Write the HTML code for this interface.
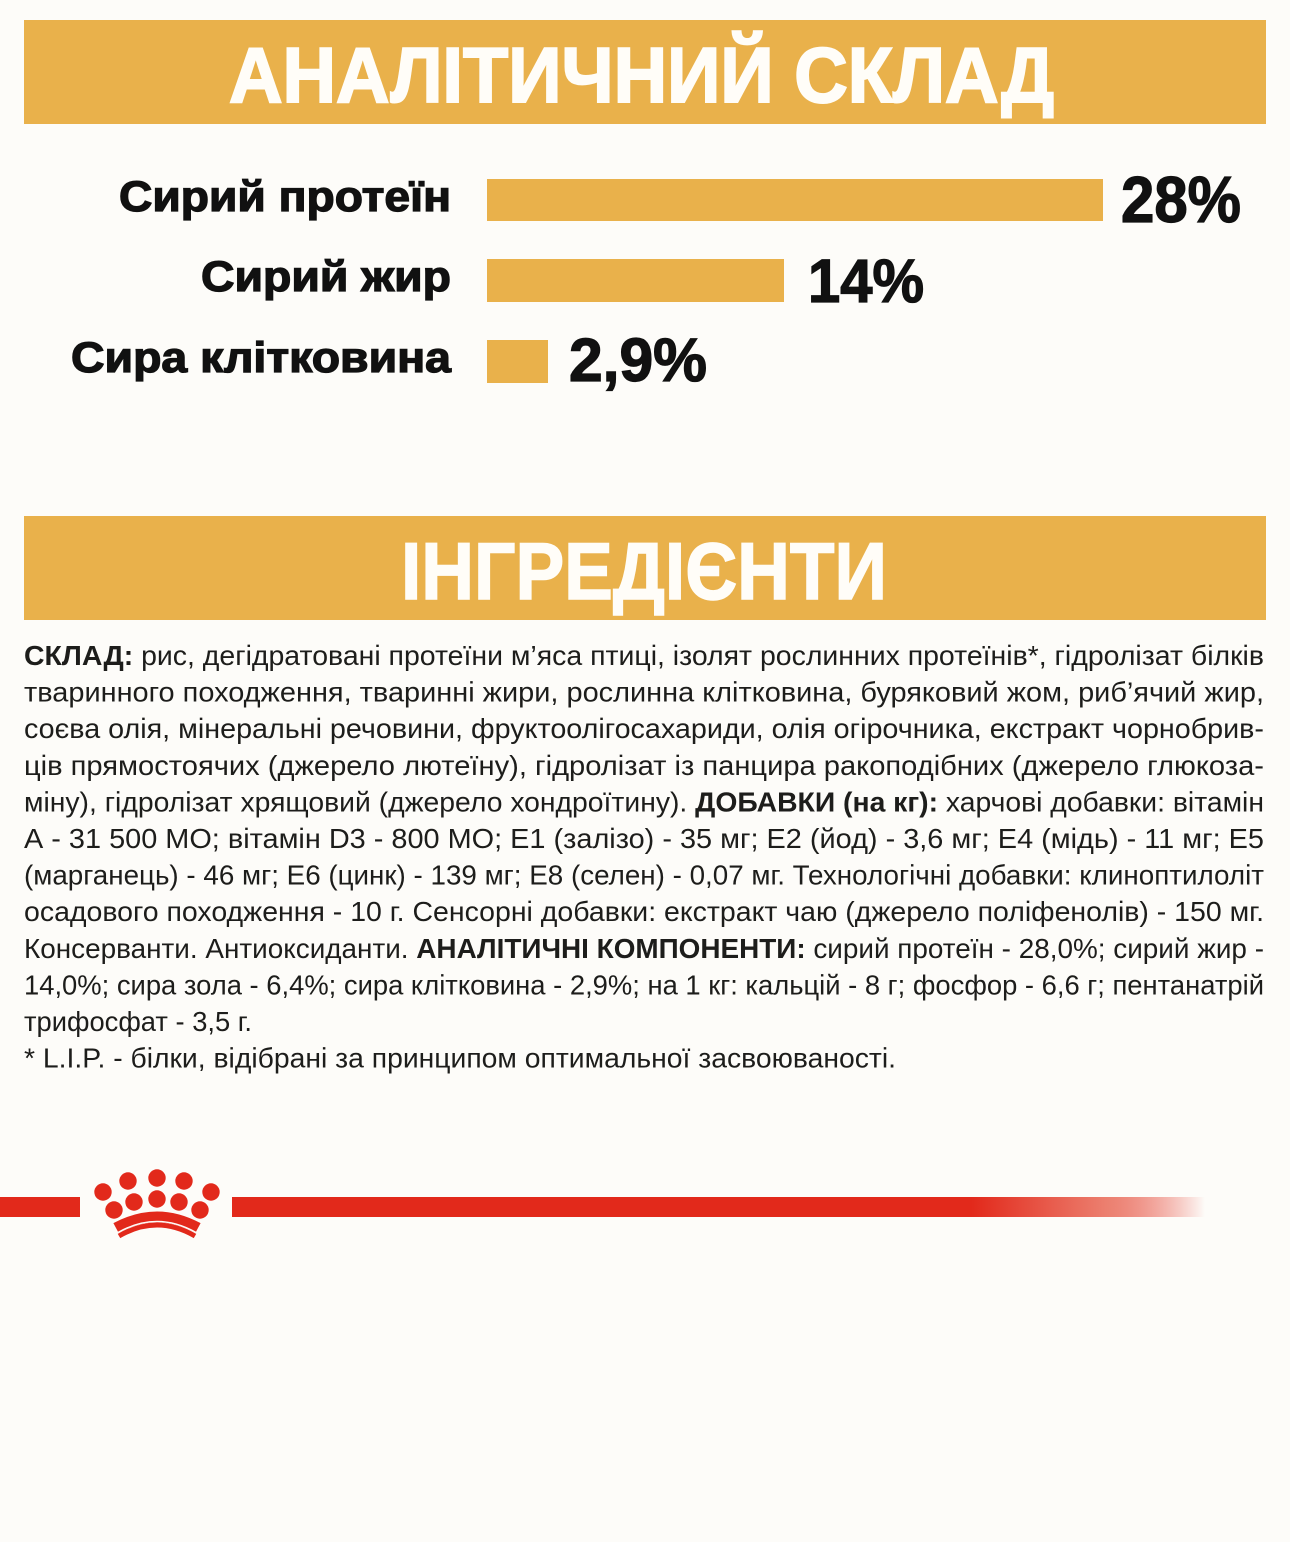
<!DOCTYPE html>
<html><head><meta charset="utf-8"><style>
html,body{margin:0;padding:0;background:#fdfcf9;}
svg{display:block;}
</style></head><body>
<svg width="1290" height="1542" viewBox="0 0 1290 1542" xmlns="http://www.w3.org/2000/svg">
<defs>
<linearGradient id="fade" x1="232" y1="0" x2="1205" y2="0" gradientUnits="userSpaceOnUse">
<stop offset="0" stop-color="#e2291b"/>
<stop offset="0.76" stop-color="#e2291b"/>
<stop offset="0.9" stop-color="#ec8070"/>
<stop offset="1" stop-color="#e2291b" stop-opacity="0"/>
</linearGradient>
</defs>
<rect x="0" y="0" width="1290" height="1542" fill="#fdfcf9"/>
<!-- Header 1 -->
<rect x="24" y="20" width="1242" height="104" fill="#e9b14b"/>
<text x="229" y="102" font-family="Liberation Sans, sans-serif" font-weight="bold" font-size="78" fill="#fffdf8" stroke="#fffdf8" stroke-width="2" textLength="825" lengthAdjust="spacingAndGlyphs">АНАЛІТИЧНИЙ СКЛАД</text>

<!-- Rows -->
<g font-family="Liberation Sans, sans-serif" font-weight="bold" fill="#111" stroke="#111" stroke-width="1.3">
<text x="119" y="211" font-size="43" textLength="332" lengthAdjust="spacingAndGlyphs">Сирий протеїн</text>
<text x="201" y="291" font-size="43" textLength="250" lengthAdjust="spacingAndGlyphs">Сирий жир</text>
<text x="71" y="372" font-size="43" textLength="380" lengthAdjust="spacingAndGlyphs">Сира клітковина</text>
<text x="1121" y="222" font-size="65" textLength="120" lengthAdjust="spacingAndGlyphs">28%</text>
<text x="808" y="302" font-size="61" textLength="116" lengthAdjust="spacingAndGlyphs">14%</text>
<text x="569" y="381" font-size="61" textLength="138" lengthAdjust="spacingAndGlyphs">2,9%</text>
</g>
<rect x="487" y="179" width="616" height="42" fill="#e9b14b"/>
<rect x="487" y="259" width="297" height="43" fill="#e9b14b"/>
<rect x="487" y="340" width="61" height="43" fill="#e9b14b"/>

<!-- Header 2 -->
<rect x="24" y="516" width="1242" height="104" fill="#e9b14b"/>
<text x="401" y="599" font-family="Liberation Sans, sans-serif" font-weight="bold" font-size="81" fill="#fffdf8" stroke="#fffdf8" stroke-width="1.5" textLength="486" lengthAdjust="spacingAndGlyphs">ІНГРЕДІЄНТИ</text>

<!-- Paragraph -->
<g font-family="Liberation Sans, sans-serif" font-size="27.5" fill="#1d1d1b">
<text x="24" y="665" textLength="1240" lengthAdjust="spacingAndGlyphs"><tspan font-weight="bold">СКЛАД:</tspan> рис, дегідратовані протеїни м’яса птиці, ізолят рослинних протеїнів*, гідролізат білків</text>
<text x="24" y="701.6" textLength="1240" lengthAdjust="spacingAndGlyphs">тваринного походження, тваринні жири, рослинна клітковина, буряковий жом, риб’ячий жир,</text>
<text x="24" y="738.2" textLength="1240" lengthAdjust="spacingAndGlyphs">соєва олія, мінеральні речовини, фруктоолігосахариди, олія огірочника, екстракт чорнобрив-</text>
<text x="24" y="774.8" textLength="1240" lengthAdjust="spacingAndGlyphs">ців прямостоячих (джерело лютеїну), гідролізат із панцира ракоподібних (джерело глюкоза-</text>
<text x="24" y="811.4" textLength="1240" lengthAdjust="spacingAndGlyphs">міну), гідролізат хрящовий (джерело хондроїтину). <tspan font-weight="bold">ДОБАВКИ (на кг):</tspan> харчові добавки: вітамін</text>
<text x="24" y="848" textLength="1240" lengthAdjust="spacingAndGlyphs">А - 31 500 МО; вітамін D3 - 800 МО; Е1 (залізо) - 35 мг; Е2 (йод) - 3,6 мг; Е4 (мідь) - 11 мг; Е5</text>
<text x="24" y="884.6" textLength="1240" lengthAdjust="spacingAndGlyphs">(марганець) - 46 мг; Е6 (цинк) - 139 мг; Е8 (селен) - 0,07 мг. Технологічні добавки: клиноптилоліт</text>
<text x="24" y="921.2" textLength="1240" lengthAdjust="spacingAndGlyphs">осадового походження - 10 г. Сенсорні добавки: екстракт чаю (джерело поліфенолів) - 150 мг.</text>
<text x="24" y="957.8" textLength="1240" lengthAdjust="spacingAndGlyphs">Консерванти. Антиоксиданти. <tspan font-weight="bold">АНАЛІТИЧНІ КОМПОНЕНТИ:</tspan> сирий протеїн - 28,0%; сирий жир -</text>
<text x="24" y="994.4" textLength="1240" lengthAdjust="spacingAndGlyphs">14,0%; сира зола - 6,4%; сира клітковина - 2,9%; на 1 кг: кальцій - 8 г; фосфор - 6,6 г; пентанатрій</text>
<text x="24" y="1031" textLength="228" lengthAdjust="spacingAndGlyphs">трифосфат - 3,5 г.</text>
<text x="24" y="1067.6" textLength="872" lengthAdjust="spacingAndGlyphs">* L.I.P. - білки, відібрані за принципом оптимальної засвоюваності.</text>
</g>

<!-- Red line + crown -->
<rect x="0" y="1197" width="80" height="20" fill="#e2291b"/>
<rect x="232" y="1197" width="975" height="20" fill="url(#fade)"/>
<g fill="#e2291b">
<circle cx="128" cy="1181" r="8.7"/>
<circle cx="157" cy="1178" r="8.7"/>
<circle cx="184" cy="1181" r="8.7"/>
<circle cx="103" cy="1192" r="8.7"/>
<circle cx="211" cy="1192" r="8.7"/>
<circle cx="134" cy="1202" r="8.7"/>
<circle cx="157" cy="1199" r="8.7"/>
<circle cx="179" cy="1202" r="8.7"/>
<circle cx="114" cy="1210" r="8.7"/>
<circle cx="200" cy="1210" r="8.7"/>
</g>
<path d="M116,1228 Q157,1206 198,1228" fill="none" stroke="#e2291b" stroke-width="11"/>
<path d="M119,1236 Q157,1214 195,1236" fill="none" stroke="#e2291b" stroke-width="5"/>
<path d="M118,1232.5 Q157,1210.5 196,1232.5" fill="none" stroke="#fdfcf9" stroke-width="1.5"/>
</svg>
</body></html>
